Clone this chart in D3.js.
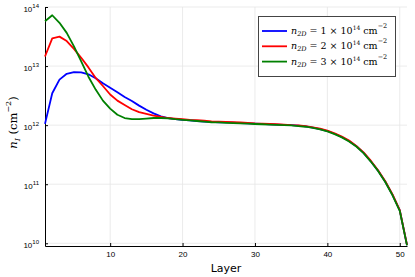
<!DOCTYPE html>
<html>
<head>
<meta charset="utf-8">
<script src="https://cdn.jsdelivr.net/npm/d3@7"></script>
<style>
  body { margin: 0; background: #fff; }
  svg { display: block; }
</style>
</head>
<body>
<div id="chart"></div>
<script>
// layer index
const layers = [
  1, 2, 3, 4, 5, 6, 7, 8, 9, 10, 11, 12, 13, 14, 15, 16, 17, 18, 19, 20,
  21, 22, 23, 24, 25, 26, 27, 28, 29, 30, 31, 32, 33, 34, 35, 36, 37, 38, 39, 40,
  41, 42, 43, 44, 45, 46, 47, 48, 49, 50, 51
];

// n_I per layer (cm^-2)
const n1 = [
  1.05e12, 3.47e12, 5.9e12, 7.4e12, 7.9e12, 7.8e12, 7.25e12, 6.2e12, 5.1e12, 4.3e12,
  3.6e12, 3.0e12, 2.57e12, 2.14e12, 1.82e12, 1.58e12, 1.41e12, 1.32e12, 1.26e12, 1.23e12,
  1.2e12, 1.175e12, 1.15e12, 1.135e12, 1.12e12, 1.11e12, 1.1e12, 1.085e12, 1.07e12, 1.06e12,
  1.05e12, 1.035e12, 1.02e12, 1.01e12, 1.0e12, 9.8e11, 9.55e11, 9.1e11, 8.6e11, 7.95e11,
  7.15e11, 6.3e11, 5.4e11, 4.4e11, 3.4e11, 2.45e11, 1.7e11, 1.1e11, 6.6e10, 3.6e10, 9.3e9
];
const n2 = [
  1.45e13, 2.95e13, 3.15e13, 2.65e13, 1.95e13, 1.38e13, 9.5e12, 6.3e12, 4.6e12, 3.3e12,
  2.6e12, 2.2e12, 1.86e12, 1.66e12, 1.55e12, 1.45e12, 1.38e12, 1.32e12, 1.29e12, 1.26e12,
  1.23e12, 1.215e12, 1.19e12, 1.16e12, 1.15e12, 1.135e12, 1.12e12, 1.11e12, 1.095e12, 1.07e12,
  1.06e12, 1.045e12, 1.035e12, 1.02e12, 1.0e12, 9.9e11, 9.65e11, 9.2e11, 8.7e11, 8.05e11,
  7.25e11, 6.4e11, 5.5e11, 4.45e11, 3.45e11, 2.5e11, 1.72e11, 1.12e11, 6.7e10, 3.65e10, 9.4e9
];
const n3 = [
  5.75e13, 7.25e13, 5.4e13, 3.65e13, 2.15e13, 1.2e13, 6.6e12, 4.0e12, 2.6e12, 1.9e12,
  1.5e12, 1.32e12, 1.26e12, 1.26e12, 1.29e12, 1.32e12, 1.32e12, 1.3e12, 1.26e12, 1.23e12,
  1.2e12, 1.175e12, 1.15e12, 1.12e12, 1.11e12, 1.095e12, 1.085e12, 1.07e12, 1.06e12, 1.045e12,
  1.035e12, 1.02e12, 1.01e12, 1.0e12, 9.9e11, 9.65e11, 9.4e11, 9.0e11, 8.5e11, 7.85e11,
  7.05e11, 6.2e11, 5.3e11, 4.35e11, 3.35e11, 2.42e11, 1.68e11, 1.09e11, 6.5e10, 3.55e10, 9.2e9
];

const seriesValues = [n1, n2, n3];
const seriesCoef = ["1", "2", "3"];
const seriesColor = ["#0000ff", "#ff0000", "#008000"];

const xTicks = [10, 20, 30, 40, 50];
const yTicks = [1e10, 1e11, 1e12, 1e13, 1e14];
const yExps = ["10", "11", "12", "13", "14"];

const W = 415, H = 277;
const plot = { left: 45, right: 407, top: 7, bottom: 246 };

const svg = d3.select("#chart").append("svg")
  .attr("width", W)
  .attr("height", H)
  .style("font-family", "DejaVu Sans, sans-serif");

const x = d3.scaleLinear().domain([1, 51]).range([plot.left, plot.right]);
const y = d3.scaleLog().domain([Math.pow(10, 9.954), 1e14]).range([plot.bottom, plot.top]);

// grid
svg.append("g").selectAll("line").data(xTicks).join("line")
  .attr("x1", d => x(d)).attr("x2", d => x(d))
  .attr("y1", plot.top).attr("y2", plot.bottom)
  .attr("stroke", "#e6e6e6").attr("stroke-width", 0.8);
svg.append("g").selectAll("line").data(yTicks).join("line")
  .attr("x1", plot.left).attr("x2", plot.right)
  .attr("y1", d => y(d)).attr("y2", d => y(d))
  .attr("stroke", "#e6e6e6").attr("stroke-width", 0.8);

// axes
const xAxis = svg.append("g")
  .attr("transform", `translate(0,${plot.bottom})`)
  .call(d3.axisBottom(x).tickValues(xTicks).tickSizeInner(-3).tickSizeOuter(0).tickPadding(5));
xAxis.selectAll("text").attr("font-size", 8).attr("fill", "#000");

const yAxis = svg.append("g")
  .attr("transform", `translate(${plot.left},0)`)
  .call(d3.axisLeft(y).tickValues(yTicks).tickSizeInner(-3).tickSizeOuter(0).tickPadding(6));
yAxis.selectAll("text").each(function (d, i) {
  const t = d3.select(this).text(null).attr("font-size", 8).attr("fill", "#000").attr("dy", "0.55em");
  t.append("tspan").text("10");
  t.append("tspan").attr("font-size", 6).attr("dy", "-0.7em").text(yExps[i]);
});

[xAxis, yAxis].forEach(a => {
  a.select(".domain").attr("stroke", "#000").attr("stroke-width", 1);
  a.selectAll(".tick line").attr("stroke", "#000");
});

// lines
const line = d3.line()
  .x((d, i) => x(layers[i]))
  .y(d => y(d));

seriesValues.forEach((vals, k) => {
  svg.append("path")
    .datum(vals)
    .attr("fill", "none")
    .attr("stroke", seriesColor[k])
    .attr("stroke-width", 1.8)
    .attr("stroke-linejoin", "round")
    .attr("d", line);
});

// axis labels
svg.append("text")
  .attr("x", (plot.left + plot.right) / 2)
  .attr("y", 272)
  .attr("text-anchor", "middle")
  .attr("font-size", 11)
  .text("Layer");

const yl = svg.append("text")
  .attr("transform", `translate(17,${(plot.top + plot.bottom) / 2 - 4}) rotate(-90)`)
  .attr("text-anchor", "middle")
  .attr("font-family", "DejaVu Serif, serif")
  .attr("font-size", 11.5);
yl.append("tspan").attr("font-style", "italic").text("n");
yl.append("tspan").attr("font-style", "italic").attr("font-size", 8).attr("dy", 2.5).text("I");
yl.append("tspan").attr("dy", -2.5).text("  (cm");
yl.append("tspan").attr("font-size", 8).attr("dy", -6).text("−2");
yl.append("tspan").attr("dy", 6).text(")");

// legend
const lg = svg.append("g");
lg.append("rect")
  .attr("x", 258.5).attr("y", 16.5)
  .attr("width", 137).attr("height", 60)
  .attr("fill", "#fff").attr("stroke", "#444").attr("stroke-width", 1);

seriesCoef.forEach((c, k) => {
  const ly = 31 + k * 15.3;
  lg.append("line")
    .attr("x1", 262).attr("x2", 287)
    .attr("y1", ly).attr("y2", ly)
    .attr("stroke", seriesColor[k]).attr("stroke-width", 1.8);
  const t = lg.append("text")
    .attr("x", 291).attr("y", ly + 3)
    .attr("font-family", "DejaVu Serif, serif")
    .attr("font-size", 9.5);
  t.append("tspan").attr("font-style", "italic").text("n");
  t.append("tspan").attr("font-style", "italic").attr("font-size", 6.5).attr("dy", 2).text("2D");
  t.append("tspan").attr("dy", -2).text(` = ${c} × 10`);
  t.append("tspan").attr("font-size", 6).attr("dy", -4).text("14");
  t.append("tspan").attr("dy", 4).text("  cm");
  t.append("tspan").attr("font-size", 6.5).attr("dy", -6).text("−2");
});
</script>
</body>
</html>
